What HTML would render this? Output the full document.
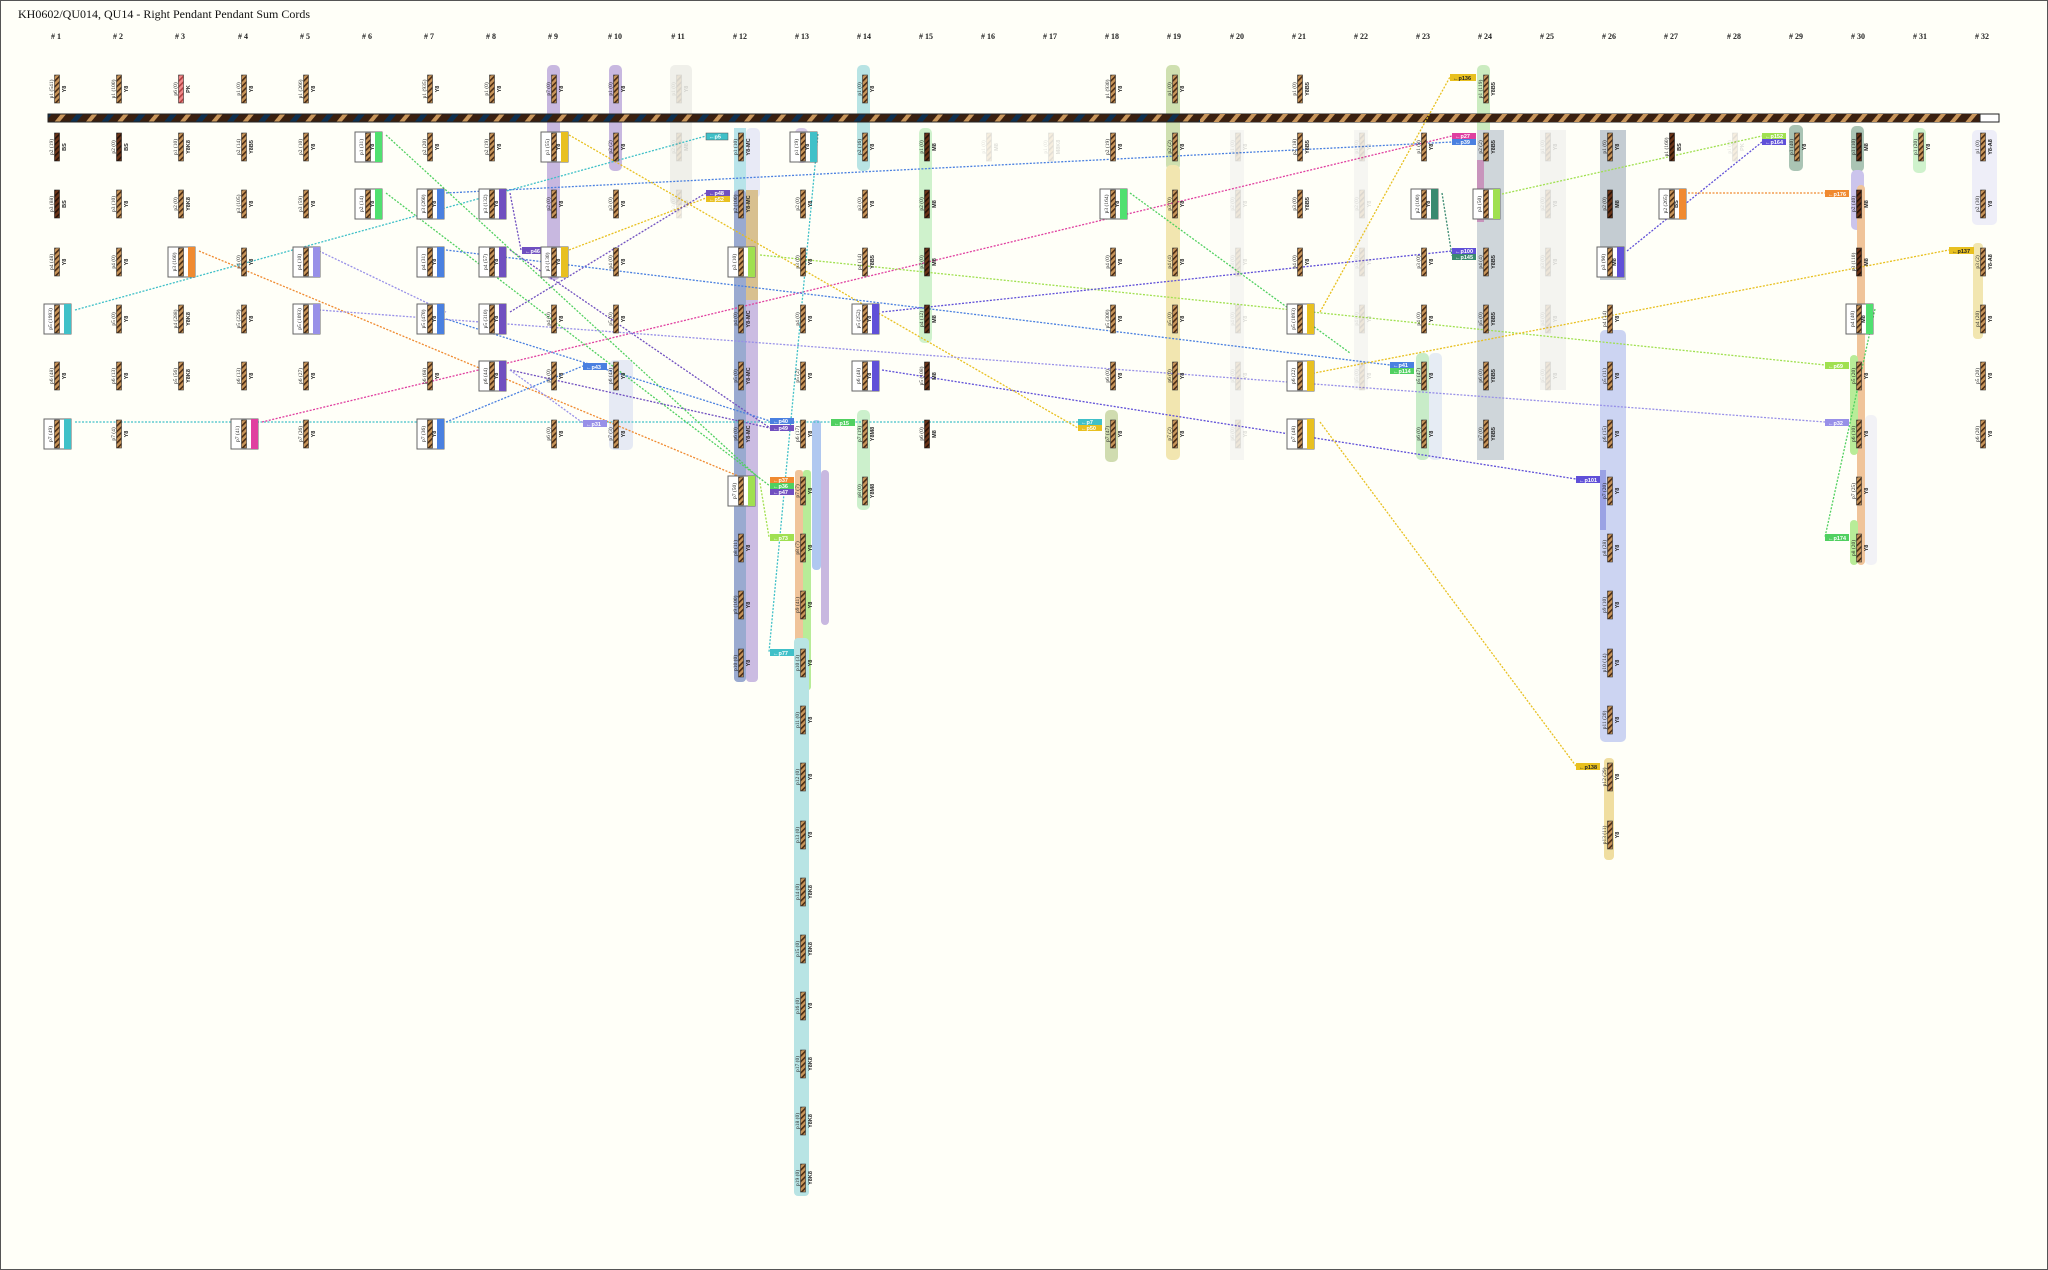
<!DOCTYPE html>
<html><head><meta charset="utf-8"><style>
html,body{margin:0;padding:0;background:#fffff8}
svg{display:block}
.l{font:5.5px "Liberation Serif",serif;text-anchor:middle;fill:#222}
.c{font:bold 5.5px "Liberation Sans",sans-serif;text-anchor:middle;fill:#222}
.h{font:bold 8px "Liberation Serif",serif;text-anchor:middle;fill:#222}
.t{font:5.5px "Liberation Sans",sans-serif;fill:#fff;font-weight:bold}
.tt{font:bold 5.5px "Liberation Sans",sans-serif;text-anchor:middle;fill:#fff}
.ln{fill:none;stroke-width:1.3;stroke-dasharray:2 1.5}
.f{opacity:.15}
</style></head><body>
<svg width="2048" height="1270" viewBox="0 0 2048 1270" xmlns="http://www.w3.org/2000/svg">
<defs>
<pattern id="st" width="4" height="4" patternUnits="userSpaceOnUse" patternTransform="rotate(45)"><rect width="4" height="4" fill="#c8955a"/><rect width="1.6" height="4" fill="#4a2c14"/></pattern>
<pattern id="sd" width="4" height="4" patternUnits="userSpaceOnUse" patternTransform="rotate(45)"><rect width="4" height="4" fill="#6a3418"/><rect width="1.6" height="4" fill="#2a1206"/></pattern>
<pattern id="sp" width="4" height="4" patternUnits="userSpaceOnUse" patternTransform="rotate(45)"><rect width="4" height="4" fill="#f08a8a"/><rect width="1.6" height="4" fill="#b04040"/></pattern>
<pattern id="bar" width="24" height="24" patternUnits="userSpaceOnUse" patternTransform="rotate(40)"><rect width="24" height="24" fill="#3a2010"/><rect x="0" width="4" height="24" fill="#c8955a"/><rect x="12" width="5" height="24" fill="#0e3050"/></pattern>
<pattern id="bar2" width="12" height="12" patternUnits="userSpaceOnUse" patternTransform="rotate(40)"><rect width="12" height="12" fill="#3a2010"/><rect width="4" height="12" fill="#c8955a"/></pattern>
<g id="s"><rect x="-2.5" y="-14" width="5" height="28" fill="url(#st)" stroke="#333" stroke-width=".6"/></g>
<g id="d"><rect x="-2.5" y="-14" width="5" height="28" fill="url(#sd)" stroke="#222" stroke-width=".6"/></g>
<g id="b"><rect x="-13" y="-15" width="27" height="30" fill="#fff" stroke="#666" stroke-width="1"/><rect x="-2.5" y="-14" width="5" height="28" fill="url(#st)" stroke="#333" stroke-width=".6"/></g>
</defs>
<rect x="0.5" y="0.5" width="2047" height="1269" fill="#fffff8" stroke="#555"/>
<text x="18" y="18" style="font:12px 'Liberation Serif',serif;fill:#111">KH0602/QU014, QU14 - Right Pendant Pendant Sum Cords</text>

<!-- column headers -->
<g class="h">
<text x="56" y="39"># 1</text><text x="118" y="39"># 2</text><text x="180" y="39"># 3</text><text x="243" y="39"># 4</text><text x="305" y="39"># 5</text><text x="367" y="39"># 6</text><text x="429" y="39"># 7</text><text x="491" y="39"># 8</text><text x="553" y="39"># 9</text><text x="615" y="39"># 10</text><text x="678" y="39"># 11</text><text x="740" y="39"># 12</text><text x="802" y="39"># 13</text><text x="864" y="39"># 14</text><text x="926" y="39"># 15</text><text x="988" y="39"># 16</text><text x="1050" y="39"># 17</text><text x="1112" y="39"># 18</text><text x="1174" y="39"># 19</text><text x="1237" y="39"># 20</text><text x="1299" y="39"># 21</text><text x="1361" y="39"># 22</text><text x="1423" y="39"># 23</text><text x="1485" y="39"># 24</text><text x="1547" y="39"># 25</text><text x="1609" y="39"># 26</text><text x="1671" y="39"># 27</text><text x="1734" y="39"># 28</text><text x="1796" y="39"># 29</text><text x="1858" y="39"># 30</text><text x="1920" y="39"># 31</text><text x="1982" y="39"># 32</text>
</g>

<!-- bands -->
<g>
<rect x="547" y="65" width="13" height="215" rx="5" fill="#c8b8e0"/>
<rect x="609" y="65" width="13" height="106" rx="5" fill="#c8b8e0"/>
<rect x="609" y="360" width="24" height="90" rx="5" fill="#e6eaf4"/>
<rect x="670" y="65" width="22" height="140" rx="5" fill="#f0f0ea"/>
<rect x="734" y="128" width="12" height="70" fill="#b8e4ea"/>
<rect x="746" y="128" width="14" height="70" rx="5" fill="#e8eaf6"/>
<rect x="734" y="190" width="12" height="492" rx="4" fill="#9aaad0"/>
<rect x="746" y="190" width="12" height="492" rx="4" fill="#cbbce2"/>
<rect x="746" y="190" width="12" height="110" fill="#d8c090"/>
<rect x="795" y="128" width="13" height="35" rx="5" fill="#d8cce8"/>
<rect x="795" y="470" width="8" height="230" rx="3" fill="#f0c49a"/>
<rect x="803" y="470" width="8" height="220" rx="3" fill="#b8ec98"/>
<rect x="812" y="420" width="9" height="150" rx="4" fill="#b0c8f0"/>
<rect x="821" y="470" width="8" height="155" rx="4" fill="#c8b8e0"/>
<rect x="794" y="638" width="15" height="558" rx="4" fill="#b8e4e4"/>
<rect x="857" y="65" width="13" height="106" rx="5" fill="#b8e4e4"/>
<rect x="857" y="410" width="13" height="100" rx="5" fill="#ccf0cc"/>
<rect x="919" y="128" width="13" height="215" rx="5" fill="#cff2cc"/>
<rect x="1105" y="410" width="13" height="52" rx="5" fill="#d0dcb0"/>
<rect x="1166" y="65" width="14" height="105" rx="5" fill="#cfe0b0"/>
<rect x="1166" y="165" width="14" height="295" rx="5" fill="#f2e6b0"/>
<rect x="1230" y="130" width="14" height="330" fill="#f6f6f2"/>
<rect x="1354" y="130" width="14" height="260" fill="#f6f6f2"/>
<rect x="1416" y="353" width="13" height="107" rx="5" fill="#c8ecc8"/>
<rect x="1429" y="353" width="13" height="107" rx="5" fill="#e6ecf4"/>
<rect x="1477" y="65" width="13" height="110" rx="5" fill="#cbecc0"/>
<rect x="1477" y="130" width="27" height="330" fill="#cfd6da"/>
<rect x="1477" y="160" width="7" height="62" fill="#c894bc"/>
<rect x="1540" y="130" width="26" height="260" fill="#f4f4f0"/>
<rect x="1600" y="130" width="26" height="150" fill="#c4ccd2"/>
<rect x="1600" y="330" width="26" height="412" rx="5" fill="#ccd4f2"/>
<rect x="1600" y="470" width="6" height="60" fill="#9aa2e4"/>
<rect x="1604" y="758" width="10" height="102" rx="4" fill="#f0dea0"/>
<rect x="1789" y="125" width="14" height="46" rx="5" fill="#aac4b4"/>
<rect x="1851" y="126" width="13" height="46" rx="5" fill="#aac4b4"/>
<rect x="1851" y="170" width="13" height="60" rx="5" fill="#cbc4ec"/>
<rect x="1857" y="185" width="8" height="380" rx="4" fill="#f0c49a"/>
<rect x="1850" y="355" width="8" height="100" rx="4" fill="#b8ec98"/>
<rect x="1850" y="520" width="8" height="45" rx="4" fill="#b8ec98"/>
<rect x="1865" y="415" width="12" height="150" rx="5" fill="#f2f2f6"/>
<rect x="1913" y="128" width="13" height="45" rx="5" fill="#cff2cc"/>
<rect x="1972" y="130" width="25" height="95" rx="5" fill="#eeeef8"/>
<rect x="1973" y="243" width="10" height="96" rx="4" fill="#f2e6b0"/>
</g>

<!-- main cord -->
<rect x="48" y="114" width="1951" height="8" fill="url(#bar)" stroke="#222" stroke-width="1"/>
<rect x="1200" y="114" width="799" height="8" fill="url(#bar2)"/>
<rect x="1980" y="114" width="19" height="8" fill="#fff" stroke="#222" stroke-width="1"/>

<!-- connectors -->
<g class="ln">
<path d="M75 310 L706 136" stroke="#40c0c8"/>
<path d="M75 422 L1078 422" stroke="#40c0c8"/>
<path d="M199 251 L755 483" stroke="#f08a30"/>
<path d="M262 422 L1452 136" stroke="#e040a0"/>
<path d="M446 193 L1452 142" stroke="#4a80e0"/>
<path d="M510 193 L521 250 M510 250 L770 428" stroke="#7050c0"/>
<path d="M386 135 L760 479" stroke="#50d060"/>
<path d="M386 193 L770 486" stroke="#50d060"/>
<path d="M446 319 L770 421" stroke="#4a80e0"/>
<path d="M319 251 L446 312" stroke="#9890e8"/>
<path d="M569 135 L1078 428" stroke="#e8c020"/>
<path d="M569 250 L706 198" stroke="#e8c020"/>
<path d="M510 312 L706 193" stroke="#7050c0"/>
<path d="M319 310 L1825 422" stroke="#9890e8"/>
<path d="M446 422 L583 366" stroke="#4a80e0"/>
<path d="M446 250 L1390 365" stroke="#4a80e0"/>
<path d="M510 370 L770 428" stroke="#7050c0"/>
<path d="M510 370 L583 423" stroke="#9890e8"/>
<path d="M818 134 L769 652" stroke="#40c0c8"/>
<path d="M760 255 L1825 365" stroke="#a0e050"/>
<path d="M882 312 L1452 251" stroke="#6050d8"/>
<path d="M882 370 L1576 479" stroke="#6050d8"/>
<path d="M1320 422 L1576 766" stroke="#e8c020"/>
<path d="M1320 312 L1450 77" stroke="#e8c020"/>
<path d="M1299 376 L1949 250" stroke="#e8c020"/>
<path d="M1130 193 L1350 353" stroke="#50d060"/>
<path d="M1502 194 L1762 136" stroke="#a0e050"/>
<path d="M1627 251 L1762 142" stroke="#6050d8"/>
<path d="M1688 193 L1825 193" stroke="#f08a30"/>
<path d="M1875 309 L1825 537" stroke="#50d060"/>
<path d="M1442 193 L1452 256" stroke="#3a8a70"/>
<path d="M760 483 L769 537" stroke="#a0e050"/>
</g>

<!-- tags -->
<g>
<rect x="706" y="133" width="22" height="7" fill="#40c0c8" stroke="#555" stroke-width=".5"/><text class="t" x="709" y="138.5">←p5</text>
<rect x="706" y="190" width="24" height="6" fill="#7050c0"/><text class="t" x="709" y="195">←p48</text>
<rect x="706" y="196" width="24" height="6" fill="#e8c020"/><text class="t" x="709" y="201">←p52</text>
<rect x="770" y="418" width="24" height="6" fill="#4a80e0"/><text class="t" x="773" y="423">←p40</text>
<rect x="770" y="425" width="24" height="6" fill="#7050c0"/><text class="t" x="773" y="430">←p49</text>
<rect x="831" y="419" width="24" height="7" fill="#50d060"/><text class="t" x="834" y="425">←p15</text>
<rect x="770" y="477" width="24" height="6" fill="#f08a30"/><text class="t" x="773" y="482">←p37</text>
<rect x="770" y="483" width="24" height="6" fill="#50d060"/><text class="t" x="773" y="488">←p36</text>
<rect x="770" y="489" width="24" height="6" fill="#7050c0"/><text class="t" x="773" y="494">←p47</text>
<rect x="770" y="534" width="24" height="7" fill="#a0e050"/><text class="t" x="773" y="540">←p73</text>
<rect x="770" y="649" width="24" height="7" fill="#40c0c8"/><text class="t" x="773" y="655">←p77</text>
<rect x="522" y="247" width="24" height="7" fill="#7050c0"/><text class="t" x="525" y="253">←p46</text>
<rect x="583" y="363" width="24" height="7" fill="#4a80e0"/><text class="t" x="586" y="369">←p43</text>
<rect x="583" y="420" width="24" height="7" fill="#9890e8"/><text class="t" x="586" y="426">←p31</text>
<rect x="1078" y="419" width="24" height="6" fill="#40c0c8"/><text class="t" x="1081" y="424">←p7</text>
<rect x="1078" y="425" width="24" height="6" fill="#e8c020"/><text class="t" x="1081" y="430">←p50</text>
<rect x="1450" y="74" width="26" height="7" fill="#e8c020"/><text class="t" x="1453" y="80" style="fill:#222">←p136</text>
<rect x="1452" y="133" width="24" height="6" fill="#e040a0"/><text class="t" x="1455" y="138">←p27</text>
<rect x="1452" y="139" width="24" height="6" fill="#4a80e0"/><text class="t" x="1455" y="144">←p39</text>
<rect x="1452" y="248" width="24" height="6" fill="#6050d8"/><text class="t" x="1455" y="253">←p100</text>
<rect x="1452" y="254" width="24" height="6" fill="#3a8a70"/><text class="t" x="1455" y="259">←p145</text>
<rect x="1390" y="362" width="24" height="6" fill="#4a80e0"/><text class="t" x="1393" y="367">←p41</text>
<rect x="1390" y="368" width="24" height="6" fill="#50d060"/><text class="t" x="1393" y="373">←p114</text>
<rect x="1762" y="133" width="24" height="6" fill="#a0e050"/><text class="t" x="1765" y="138">←p152</text>
<rect x="1762" y="139" width="24" height="6" fill="#6050d8"/><text class="t" x="1765" y="144">←p164</text>
<rect x="1825" y="190" width="24" height="7" fill="#f08a30"/><text class="t" x="1828" y="196">←p176</text>
<rect x="1949" y="247" width="25" height="7" fill="#e8c020"/><text class="t" x="1952" y="253" style="fill:#222">←p137</text>
<rect x="1825" y="362" width="24" height="7" fill="#a0e050"/><text class="t" x="1828" y="368">←p69</text>
<rect x="1825" y="419" width="24" height="7" fill="#9890e8"/><text class="t" x="1828" y="425">←p32</text>
<rect x="1825" y="534" width="24" height="7" fill="#50d060"/><text class="t" x="1828" y="540">←p174</text>
<rect x="1576" y="476" width="24" height="7" fill="#6050d8"/><text class="t" x="1579" y="482">←p101</text>
<rect x="1576" y="763" width="24" height="7" fill="#e8c020"/><text class="t" x="1579" y="769" style="fill:#222">←p138</text>
</g>

<!-- boxes (with tags) -->
<g>
<g transform="translate(57,319)"><use href="#b"/><rect x="7" y="-15" width="7" height="30" fill="#40c0c8"/><text class="l" transform="rotate(-90)" y="-5">p5 (1993)</text></g>
<g transform="translate(57,434)"><use href="#b"/><rect x="7" y="-15" width="7" height="30" fill="#40c0c8"/><text class="l" transform="rotate(-90)" y="-5">p7 (49)</text></g>
<g transform="translate(181,262)"><use href="#b"/><rect x="7" y="-15" width="7" height="30" fill="#f08a30"/><text class="l" transform="rotate(-90)" y="-5">p3 (160)</text></g>
<g transform="translate(244,434)"><use href="#b"/><rect x="7" y="-15" width="7" height="30" fill="#e040a0"/><text class="l" transform="rotate(-90)" y="-5">p7 (41)</text></g>
<g transform="translate(306,262)"><use href="#b"/><rect x="7" y="-15" width="7" height="30" fill="#9890e8"/><text class="l" transform="rotate(-90)" y="-5">p4 (10)</text></g>
<g transform="translate(306,319)"><use href="#b"/><rect x="7" y="-15" width="7" height="30" fill="#9890e8"/><text class="l" transform="rotate(-90)" y="-5">p5 (1093)</text></g>
<g transform="translate(368,147)"><use href="#b"/><rect x="7" y="-15" width="7" height="30" fill="#50e070"/><text class="l" transform="rotate(-90)" y="-5">p1 (31)</text><text class="c" transform="rotate(-90)" y="6">Y8</text></g>
<g transform="translate(368,204)"><use href="#b"/><rect x="7" y="-15" width="7" height="30" fill="#50e070"/><text class="l" transform="rotate(-90)" y="-5">p2 (14)</text><text class="c" transform="rotate(-90)" y="6">Y8</text></g>
<g transform="translate(430,204)"><use href="#b"/><rect x="7" y="-15" width="7" height="30" fill="#4a80e0"/><text class="l" transform="rotate(-90)" y="-5">p3 (260)</text><text class="c" transform="rotate(-90)" y="6">Y8</text></g>
<g transform="translate(430,262)"><use href="#b"/><rect x="7" y="-15" width="7" height="30" fill="#4a80e0"/><text class="l" transform="rotate(-90)" y="-5">p4 (31)</text><text class="c" transform="rotate(-90)" y="6">Y8</text></g>
<g transform="translate(430,319)"><use href="#b"/><rect x="7" y="-15" width="7" height="30" fill="#4a80e0"/><text class="l" transform="rotate(-90)" y="-5">p5 (470)</text><text class="c" transform="rotate(-90)" y="6">Y8</text></g>
<g transform="translate(430,434)"><use href="#b"/><rect x="7" y="-15" width="7" height="30" fill="#4a80e0"/><text class="l" transform="rotate(-90)" y="-5">p7 (36)</text><text class="c" transform="rotate(-90)" y="6">Y8</text></g>
<g transform="translate(492,204)"><use href="#b"/><rect x="7" y="-15" width="7" height="30" fill="#7050c0"/><text class="l" transform="rotate(-90)" y="-5">p3 (132)</text><text class="c" transform="rotate(-90)" y="6">Y8</text></g>
<g transform="translate(492,262)"><use href="#b"/><rect x="7" y="-15" width="7" height="30" fill="#7050c0"/><text class="l" transform="rotate(-90)" y="-5">p4 (57)</text><text class="c" transform="rotate(-90)" y="6">Y8</text></g>
<g transform="translate(492,319)"><use href="#b"/><rect x="7" y="-15" width="7" height="30" fill="#7050c0"/><text class="l" transform="rotate(-90)" y="-5">p5 (310)</text><text class="c" transform="rotate(-90)" y="6">Y8</text></g>
<g transform="translate(492,376)"><use href="#b"/><rect x="7" y="-15" width="7" height="30" fill="#7050c0"/><text class="l" transform="rotate(-90)" y="-5">p6 (44)</text><text class="c" transform="rotate(-90)" y="6">Y8</text></g>
<g transform="translate(554,147)"><use href="#b"/><rect x="7" y="-15" width="7" height="30" fill="#e8c020"/><text class="l" transform="rotate(-90)" y="-5">p1 (55)</text><text class="c" transform="rotate(-90)" y="6">Y8</text></g>
<g transform="translate(554,262)"><use href="#b"/><rect x="7" y="-15" width="7" height="30" fill="#e8c020"/><text class="l" transform="rotate(-90)" y="-5">p3 (130)</text><text class="c" transform="rotate(-90)" y="6">Y8</text></g>
<g transform="translate(741,262)"><use href="#b"/><rect x="7" y="-15" width="7" height="30" fill="#a0e050"/><text class="l" transform="rotate(-90)" y="-5">p3 (10)</text></g>
<g transform="translate(741,491)"><use href="#b"/><rect x="7" y="-15" width="7" height="30" fill="#a0e050"/><text class="l" transform="rotate(-90)" y="-5">p7 (50)</text></g>
<g transform="translate(803,147)"><use href="#b"/><rect x="7" y="-15" width="7" height="30" fill="#40c0c8"/><text class="l" transform="rotate(-90)" y="-5">p1 (19)</text><text class="c" transform="rotate(-90)" y="6">Y8</text></g>
<g transform="translate(865,319)"><use href="#b"/><rect x="7" y="-15" width="7" height="30" fill="#6050d8"/><text class="l" transform="rotate(-90)" y="-5">p5 (252)</text><text class="c" transform="rotate(-90)" y="6">Y8</text></g>
<g transform="translate(865,376)"><use href="#b"/><rect x="7" y="-15" width="7" height="30" fill="#6050d8"/><text class="l" transform="rotate(-90)" y="-5">p6 (48)</text><text class="c" transform="rotate(-90)" y="6">Y8</text></g>
<g transform="translate(1113,204)"><use href="#b"/><rect x="7" y="-15" width="7" height="30" fill="#50e070"/><text class="l" transform="rotate(-90)" y="-5">p3 (164)</text><text class="c" transform="rotate(-90)" y="6">Y8</text></g>
<g transform="translate(1300,319)"><use href="#b"/><rect x="7" y="-15" width="7" height="30" fill="#e8c020"/><text class="l" transform="rotate(-90)" y="-5">p5 (1093)</text></g>
<g transform="translate(1300,376)"><use href="#b"/><rect x="7" y="-15" width="7" height="30" fill="#e8c020"/><text class="l" transform="rotate(-90)" y="-5">p6 (22)</text></g>
<g transform="translate(1300,434)"><use href="#b"/><rect x="7" y="-15" width="7" height="30" fill="#e8c020"/><text class="l" transform="rotate(-90)" y="-5">p7 (48)</text></g>
<g transform="translate(1424,204)"><use href="#b"/><rect x="7" y="-15" width="7" height="30" fill="#3a8a70"/><text class="l" transform="rotate(-90)" y="-5">p2 (100)</text><text class="c" transform="rotate(-90)" y="6">Y8</text></g>
<g transform="translate(1486,204)"><use href="#b"/><rect x="7" y="-15" width="7" height="30" fill="#a0e050"/><text class="l" transform="rotate(-90)" y="-5">p3 (50)</text></g>
<g transform="translate(1610,262)"><use href="#b"/><rect x="7" y="-15" width="7" height="30" fill="#6050d8"/><text class="l" transform="rotate(-90)" y="-5">p3 (90)</text><text class="c" transform="rotate(-90)" y="6">M8</text></g>
<g transform="translate(1672,204)"><use href="#b"/><rect x="7" y="-15" width="7" height="30" fill="#f08a30"/><text class="l" transform="rotate(-90)" y="-5">p2 (265)</text><text class="c" transform="rotate(-90)" y="6">BS</text></g>
<g transform="translate(1859,319)"><use href="#b"/><rect x="7" y="-15" width="7" height="30" fill="#50e070"/><text class="l" transform="rotate(-90)" y="-5">p4 (40)</text><text class="c" transform="rotate(-90)" y="6">M8</text></g>
</g>

<!-- plain cords -->
<g>
<!-- top row -->
<g transform="translate(57,89)"><use href="#s"/><text class="l" transform="rotate(-90)" y="-4">p1 (541)</text><text class="c" transform="rotate(-90)" y="9">Y8</text></g>
<g transform="translate(119,89)"><use href="#s"/><text class="l" transform="rotate(-90)" y="-4">p1 (100)</text><text class="c" transform="rotate(-90)" y="9">Y8</text></g>
<g transform="translate(181,89)"><rect x="-2.5" y="-14" width="5" height="28" fill="url(#sp)" stroke="#333" stroke-width=".6"/><text class="l" transform="rotate(-90)" y="-4">p6 (0)</text><text class="c" transform="rotate(-90)" y="9">PK</text></g>
<g transform="translate(244,89)"><use href="#s"/><text class="l" transform="rotate(-90)" y="-4">p1 (0)</text><text class="c" transform="rotate(-90)" y="9">Y8</text></g>
<g transform="translate(306,89)"><use href="#s"/><text class="l" transform="rotate(-90)" y="-4">p1 (266)</text><text class="c" transform="rotate(-90)" y="9">Y8</text></g>
<g transform="translate(430,89)"><use href="#s"/><text class="l" transform="rotate(-90)" y="-4">p1 (935)</text><text class="c" transform="rotate(-90)" y="9">Y8</text></g>
<g transform="translate(492,89)"><use href="#s"/><text class="l" transform="rotate(-90)" y="-4">p1 (0)</text><text class="c" transform="rotate(-90)" y="9">Y8</text></g>
<g transform="translate(554,89)"><use href="#s"/><text class="l" transform="rotate(-90)" y="-4">p7 (0)</text><text class="c" transform="rotate(-90)" y="9">Y8</text></g>
<g transform="translate(616,89)"><use href="#s"/><text class="l" transform="rotate(-90)" y="-4">p1 (0)</text><text class="c" transform="rotate(-90)" y="9">Y8</text></g>
<g transform="translate(679,89)" class="f"><use href="#s"/><text class="l" transform="rotate(-90)" y="-4">p1 (0)</text><text class="c" transform="rotate(-90)" y="9">Y8</text></g>
<g transform="translate(865,89)"><use href="#s"/><text class="l" transform="rotate(-90)" y="-4">p1 (0)</text><text class="c" transform="rotate(-90)" y="9">Y8</text></g>
<g transform="translate(1113,89)"><use href="#s"/><text class="l" transform="rotate(-90)" y="-4">p1 (930)</text><text class="c" transform="rotate(-90)" y="9">Y8</text></g>
<g transform="translate(1175,89)"><use href="#s"/><text class="l" transform="rotate(-90)" y="-4">p1 (0)</text><text class="c" transform="rotate(-90)" y="9">Y8</text></g>
<g transform="translate(1300,89)"><use href="#s"/><text class="l" transform="rotate(-90)" y="-4">p1 (0)</text><text class="c" transform="rotate(-90)" y="9">Y8B5</text></g>
<g transform="translate(1486,89)"><use href="#s"/><text class="l" transform="rotate(-90)" y="-4">p1 (119)</text><text class="c" transform="rotate(-90)" y="9">Y8B5</text></g>
<!-- row1 -->
<g transform="translate(57,147)"><use href="#d"/><text class="l" transform="rotate(-90)" y="-4">p2 (19)</text><text class="c" transform="rotate(-90)" y="9">BS</text></g>
<g transform="translate(119,147)"><use href="#d"/><text class="l" transform="rotate(-90)" y="-4">p2 (0)</text><text class="c" transform="rotate(-90)" y="9">BS</text></g>
<g transform="translate(181,147)"><use href="#s"/><text class="l" transform="rotate(-90)" y="-4">p1 (10)</text><text class="c" transform="rotate(-90)" y="9">Y8K8</text></g>
<g transform="translate(244,147)"><use href="#s"/><text class="l" transform="rotate(-90)" y="-4">p2 (14)</text><text class="c" transform="rotate(-90)" y="9">Y8B5</text></g>
<g transform="translate(306,147)"><use href="#s"/><text class="l" transform="rotate(-90)" y="-4">p2 (10)</text><text class="c" transform="rotate(-90)" y="9">Y8</text></g>
<g transform="translate(430,147)"><use href="#s"/><text class="l" transform="rotate(-90)" y="-4">p2 (20)</text><text class="c" transform="rotate(-90)" y="9">Y8</text></g>
<g transform="translate(492,147)"><use href="#s"/><text class="l" transform="rotate(-90)" y="-4">p2 (19)</text><text class="c" transform="rotate(-90)" y="9">Y8</text></g>
<g transform="translate(616,147)"><use href="#s"/><text class="l" transform="rotate(-90)" y="-4">p2 (2)</text><text class="c" transform="rotate(-90)" y="9">Y8</text></g>
<g transform="translate(679,147)" class="f"><use href="#s"/><text class="l" transform="rotate(-90)" y="-4">p2 (0)</text><text class="c" transform="rotate(-90)" y="9">M8</text></g>
<g transform="translate(741,147)"><use href="#s"/><text class="l" transform="rotate(-90)" y="-4">p1 (10)</text><text class="c" transform="rotate(-90)" y="9">Y8-MC</text></g>
<g transform="translate(865,147)"><use href="#s"/><text class="l" transform="rotate(-90)" y="-4">p2 (16)</text><text class="c" transform="rotate(-90)" y="9">Y8</text></g>
<g transform="translate(927,147)"><use href="#d"/><text class="l" transform="rotate(-90)" y="-4">p1 (0)</text><text class="c" transform="rotate(-90)" y="9">M8</text></g>
<g transform="translate(989,147)" class="f"><use href="#s"/><text class="l" transform="rotate(-90)" y="-4">p1 (0)</text><text class="c" transform="rotate(-90)" y="9">M8</text></g>
<g transform="translate(1051,147)" class="f"><use href="#s"/><text class="l" transform="rotate(-90)" y="-4">p1 (0)</text><text class="c" transform="rotate(-90)" y="9">M8K8</text></g>
<g transform="translate(1113,147)"><use href="#s"/><text class="l" transform="rotate(-90)" y="-4">p2 (19)</text><text class="c" transform="rotate(-90)" y="9">Y8</text></g>
<g transform="translate(1175,147)"><use href="#s"/><text class="l" transform="rotate(-90)" y="-4">p2 (2)</text><text class="c" transform="rotate(-90)" y="9">Y8</text></g>
<g transform="translate(1238,147)" class="f"><use href="#s"/><text class="l" transform="rotate(-90)" y="-4">p1 (0)</text><text class="c" transform="rotate(-90)" y="9">Y8</text></g>
<g transform="translate(1300,147)"><use href="#s"/><text class="l" transform="rotate(-90)" y="-4">p2 (18)</text><text class="c" transform="rotate(-90)" y="9">Y8B5</text></g>
<g transform="translate(1362,147)" class="f"><use href="#s"/><text class="l" transform="rotate(-90)" y="-4">p1 (0)</text><text class="c" transform="rotate(-90)" y="9">Y8</text></g>
<g transform="translate(1424,147)"><use href="#s"/><text class="l" transform="rotate(-90)" y="-4">p1 (8)</text><text class="c" transform="rotate(-90)" y="9">Y8</text></g>
<g transform="translate(1486,147)"><use href="#s"/><text class="l" transform="rotate(-90)" y="-4">p2 (2)</text><text class="c" transform="rotate(-90)" y="9">Y8B5</text></g>
<g transform="translate(1548,147)" class="f"><use href="#s"/><text class="l" transform="rotate(-90)" y="-4">p1 (0)</text><text class="c" transform="rotate(-90)" y="9">Y8</text></g>
<g transform="translate(1610,147)"><use href="#s"/><text class="l" transform="rotate(-90)" y="-4">p1 (6)</text><text class="c" transform="rotate(-90)" y="9">Y8</text></g>
<g transform="translate(1672,147)"><use href="#d"/><text class="l" transform="rotate(-90)" y="-4">p1 (160)</text><text class="c" transform="rotate(-90)" y="9">BS</text></g>
<g transform="translate(1735,147)" class="f"><use href="#s"/><text class="l" transform="rotate(-90)" y="-4">p1 (0)</text><text class="c" transform="rotate(-90)" y="9">PK</text></g>
<g transform="translate(1797,147)"><use href="#s"/><text class="l" transform="rotate(-90)" y="-4">p1 (40)</text><text class="c" transform="rotate(-90)" y="9">Y8</text></g>
<g transform="translate(1859,147)"><use href="#d"/><text class="l" transform="rotate(-90)" y="-4">p1 (10)</text><text class="c" transform="rotate(-90)" y="9">M8</text></g>
<g transform="translate(1921,147)"><use href="#s"/><text class="l" transform="rotate(-90)" y="-4">p1 (20)</text><text class="c" transform="rotate(-90)" y="9">Y8</text></g>
<g transform="translate(1983,147)"><use href="#s"/><text class="l" transform="rotate(-90)" y="-4">p1 (0)</text><text class="c" transform="rotate(-90)" y="9">Y8-A8</text></g>
<!-- row2 -->
<g transform="translate(57,204)"><use href="#d"/><text class="l" transform="rotate(-90)" y="-4">p3 (88)</text><text class="c" transform="rotate(-90)" y="9">BS</text></g>
<g transform="translate(119,204)"><use href="#s"/><text class="l" transform="rotate(-90)" y="-4">p3 (10)</text><text class="c" transform="rotate(-90)" y="9">Y8</text></g>
<g transform="translate(181,204)"><use href="#s"/><text class="l" transform="rotate(-90)" y="-4">p2 (0)</text><text class="c" transform="rotate(-90)" y="9">Y8K8</text></g>
<g transform="translate(244,204)"><use href="#s"/><text class="l" transform="rotate(-90)" y="-4">p3 (105)</text><text class="c" transform="rotate(-90)" y="9">Y8</text></g>
<g transform="translate(306,204)"><use href="#s"/><text class="l" transform="rotate(-90)" y="-4">p3 (59)</text><text class="c" transform="rotate(-90)" y="9">Y8</text></g>
<g transform="translate(554,204)"><use href="#s"/><text class="l" transform="rotate(-90)" y="-4">p2 (0)</text><text class="c" transform="rotate(-90)" y="9">Y8</text></g>
<g transform="translate(616,204)"><use href="#s"/><text class="l" transform="rotate(-90)" y="-4">p3 (0)</text><text class="c" transform="rotate(-90)" y="9">Y8</text></g>
<g transform="translate(679,204)" class="f"><use href="#s"/><text class="l" transform="rotate(-90)" y="-4">p3 (0)</text><text class="c" transform="rotate(-90)" y="9">M8</text></g>
<g transform="translate(741,204)"><use href="#s"/><text class="l" transform="rotate(-90)" y="-4">p2 (100)</text><text class="c" transform="rotate(-90)" y="9">Y8-MC</text></g>
<g transform="translate(803,204)"><use href="#s"/><text class="l" transform="rotate(-90)" y="-4">p2 (0)</text><text class="c" transform="rotate(-90)" y="9">Y8</text></g>
<g transform="translate(865,204)"><use href="#s"/><text class="l" transform="rotate(-90)" y="-4">p3 (0)</text><text class="c" transform="rotate(-90)" y="9">Y8</text></g>
<g transform="translate(927,204)"><use href="#d"/><text class="l" transform="rotate(-90)" y="-4">p2 (0)</text><text class="c" transform="rotate(-90)" y="9">M8</text></g>
<g transform="translate(1175,204)"><use href="#s"/><text class="l" transform="rotate(-90)" y="-4">p3 (0)</text><text class="c" transform="rotate(-90)" y="9">Y8</text></g>
<g transform="translate(1238,204)" class="f"><use href="#s"/><text class="l" transform="rotate(-90)" y="-4">p2 (0)</text><text class="c" transform="rotate(-90)" y="9">Y8</text></g>
<g transform="translate(1300,204)"><use href="#s"/><text class="l" transform="rotate(-90)" y="-4">p3 (0)</text><text class="c" transform="rotate(-90)" y="9">Y8B5</text></g>
<g transform="translate(1362,204)" class="f"><use href="#s"/><text class="l" transform="rotate(-90)" y="-4">p2 (0)</text><text class="c" transform="rotate(-90)" y="9">Y8</text></g>
<g transform="translate(1548,204)" class="f"><use href="#s"/><text class="l" transform="rotate(-90)" y="-4">p2 (0)</text><text class="c" transform="rotate(-90)" y="9">Y8</text></g>
<g transform="translate(1610,204)"><use href="#d"/><text class="l" transform="rotate(-90)" y="-4">p2 (0)</text><text class="c" transform="rotate(-90)" y="9">M8</text></g>
<g transform="translate(1859,204)"><use href="#d"/><text class="l" transform="rotate(-90)" y="-4">p2 (40)</text><text class="c" transform="rotate(-90)" y="9">M8</text></g>
<g transform="translate(1983,204)"><use href="#s"/><text class="l" transform="rotate(-90)" y="-4">p2 (30)</text><text class="c" transform="rotate(-90)" y="9">Y8</text></g>
<!-- row3 -->
<g transform="translate(57,262)"><use href="#s"/><text class="l" transform="rotate(-90)" y="-4">p4 (48)</text><text class="c" transform="rotate(-90)" y="9">Y8</text></g>
<g transform="translate(119,262)"><use href="#s"/><text class="l" transform="rotate(-90)" y="-4">p4 (0)</text><text class="c" transform="rotate(-90)" y="9">Y8</text></g>
<g transform="translate(244,262)"><use href="#s"/><text class="l" transform="rotate(-90)" y="-4">p4 (0)</text><text class="c" transform="rotate(-90)" y="9">Y8</text></g>
<g transform="translate(616,262)"><use href="#s"/><text class="l" transform="rotate(-90)" y="-4">p4 (0)</text><text class="c" transform="rotate(-90)" y="9">Y8</text></g>
<g transform="translate(803,262)"><use href="#s"/><text class="l" transform="rotate(-90)" y="-4">p3 (0)</text><text class="c" transform="rotate(-90)" y="9">Y8</text></g>
<g transform="translate(865,262)"><use href="#s"/><text class="l" transform="rotate(-90)" y="-4">p4 (14)</text><text class="c" transform="rotate(-90)" y="9">Y8B5</text></g>
<g transform="translate(927,262)"><use href="#d"/><text class="l" transform="rotate(-90)" y="-4">p3 (0)</text><text class="c" transform="rotate(-90)" y="9">M8</text></g>
<g transform="translate(1113,262)"><use href="#s"/><text class="l" transform="rotate(-90)" y="-4">p4 (0)</text><text class="c" transform="rotate(-90)" y="9">Y8</text></g>
<g transform="translate(1175,262)"><use href="#s"/><text class="l" transform="rotate(-90)" y="-4">p4 (4)</text><text class="c" transform="rotate(-90)" y="9">Y8</text></g>
<g transform="translate(1238,262)" class="f"><use href="#s"/><text class="l" transform="rotate(-90)" y="-4">p3 (0)</text><text class="c" transform="rotate(-90)" y="9">Y8</text></g>
<g transform="translate(1300,262)"><use href="#s"/><text class="l" transform="rotate(-90)" y="-4">p4 (0)</text><text class="c" transform="rotate(-90)" y="9">Y8</text></g>
<g transform="translate(1362,262)" class="f"><use href="#s"/><text class="l" transform="rotate(-90)" y="-4">p3 (0)</text><text class="c" transform="rotate(-90)" y="9">Y8</text></g>
<g transform="translate(1424,262)"><use href="#s"/><text class="l" transform="rotate(-90)" y="-4">p3 (0)</text><text class="c" transform="rotate(-90)" y="9">Y8</text></g>
<g transform="translate(1486,262)"><use href="#s"/><text class="l" transform="rotate(-90)" y="-4">p4 (4)</text><text class="c" transform="rotate(-90)" y="9">Y8B5</text></g>
<g transform="translate(1548,262)" class="f"><use href="#s"/><text class="l" transform="rotate(-90)" y="-4">p3 (0)</text><text class="c" transform="rotate(-90)" y="9">Y8</text></g>
<g transform="translate(1859,262)"><use href="#d"/><text class="l" transform="rotate(-90)" y="-4">p3 (110)</text><text class="c" transform="rotate(-90)" y="9">M8</text></g>
<g transform="translate(1983,262)"><use href="#s"/><text class="l" transform="rotate(-90)" y="-4">p3 (2)</text><text class="c" transform="rotate(-90)" y="9">Y8-A8</text></g>
<!-- row4 -->
<g transform="translate(119,319)"><use href="#s"/><text class="l" transform="rotate(-90)" y="-4">p5 (0)</text><text class="c" transform="rotate(-90)" y="9">Y8</text></g>
<g transform="translate(181,319)"><use href="#s"/><text class="l" transform="rotate(-90)" y="-4">p4 (288)</text><text class="c" transform="rotate(-90)" y="9">Y8K8</text></g>
<g transform="translate(244,319)"><use href="#s"/><text class="l" transform="rotate(-90)" y="-4">p5 (229)</text><text class="c" transform="rotate(-90)" y="9">Y8</text></g>
<g transform="translate(554,319)"><use href="#s"/><text class="l" transform="rotate(-90)" y="-4">p4 (0)</text><text class="c" transform="rotate(-90)" y="9">Y8</text></g>
<g transform="translate(616,319)"><use href="#s"/><text class="l" transform="rotate(-90)" y="-4">p5 (0)</text><text class="c" transform="rotate(-90)" y="9">Y8</text></g>
<g transform="translate(741,319)"><use href="#s"/><text class="l" transform="rotate(-90)" y="-4">p4 (0)</text><text class="c" transform="rotate(-90)" y="9">Y8-MC</text></g>
<g transform="translate(803,319)"><use href="#s"/><text class="l" transform="rotate(-90)" y="-4">p4 (0)</text><text class="c" transform="rotate(-90)" y="9">Y8</text></g>
<g transform="translate(927,319)"><use href="#d"/><text class="l" transform="rotate(-90)" y="-4">p4 (12)</text><text class="c" transform="rotate(-90)" y="9">M8</text></g>
<g transform="translate(1113,319)"><use href="#s"/><text class="l" transform="rotate(-90)" y="-4">p5 (300)</text><text class="c" transform="rotate(-90)" y="9">Y8</text></g>
<g transform="translate(1175,319)"><use href="#s"/><text class="l" transform="rotate(-90)" y="-4">p5 (0)</text><text class="c" transform="rotate(-90)" y="9">Y8</text></g>
<g transform="translate(1238,319)" class="f"><use href="#s"/><text class="l" transform="rotate(-90)" y="-4">p4 (0)</text><text class="c" transform="rotate(-90)" y="9">Y8</text></g>
<g transform="translate(1362,319)" class="f"><use href="#s"/><text class="l" transform="rotate(-90)" y="-4">p4 (0)</text><text class="c" transform="rotate(-90)" y="9">Y8</text></g>
<g transform="translate(1424,319)"><use href="#s"/><text class="l" transform="rotate(-90)" y="-4">p4 (0)</text><text class="c" transform="rotate(-90)" y="9">Y8</text></g>
<g transform="translate(1486,319)"><use href="#s"/><text class="l" transform="rotate(-90)" y="-4">p5 (0)</text><text class="c" transform="rotate(-90)" y="9">Y8B5</text></g>
<g transform="translate(1548,319)" class="f"><use href="#s"/><text class="l" transform="rotate(-90)" y="-4">p4 (0)</text><text class="c" transform="rotate(-90)" y="9">Y8</text></g>
<g transform="translate(1610,319)"><use href="#s"/><text class="l" transform="rotate(-90)" y="-4">p4 (14)</text><text class="c" transform="rotate(-90)" y="9">Y8</text></g>
<g transform="translate(1983,319)"><use href="#s"/><text class="l" transform="rotate(-90)" y="-4">p4 (20)</text><text class="c" transform="rotate(-90)" y="9">Y8</text></g>
<!-- row5 -->
<g transform="translate(57,376)"><use href="#s"/><text class="l" transform="rotate(-90)" y="-4">p6 (48)</text><text class="c" transform="rotate(-90)" y="9">Y8</text></g>
<g transform="translate(119,376)"><use href="#s"/><text class="l" transform="rotate(-90)" y="-4">p6 (13)</text><text class="c" transform="rotate(-90)" y="9">Y8</text></g>
<g transform="translate(181,376)"><use href="#s"/><text class="l" transform="rotate(-90)" y="-4">p5 (56)</text><text class="c" transform="rotate(-90)" y="9">Y8K8</text></g>
<g transform="translate(244,376)"><use href="#s"/><text class="l" transform="rotate(-90)" y="-4">p6 (13)</text><text class="c" transform="rotate(-90)" y="9">Y8</text></g>
<g transform="translate(306,376)"><use href="#s"/><text class="l" transform="rotate(-90)" y="-4">p6 (27)</text><text class="c" transform="rotate(-90)" y="9">Y8</text></g>
<g transform="translate(430,376)"><use href="#s"/><text class="l" transform="rotate(-90)" y="-4">p6 (68)</text><text class="c" transform="rotate(-90)" y="9">Y8</text></g>
<g transform="translate(554,376)"><use href="#s"/><text class="l" transform="rotate(-90)" y="-4">p5 (0)</text><text class="c" transform="rotate(-90)" y="9">Y8</text></g>
<g transform="translate(616,376)"><use href="#s"/><text class="l" transform="rotate(-90)" y="-4">p6 (43)</text><text class="c" transform="rotate(-90)" y="9">Y8</text></g>
<g transform="translate(741,376)"><use href="#s"/><text class="l" transform="rotate(-90)" y="-4">p5 (0)</text><text class="c" transform="rotate(-90)" y="9">Y8-MC</text></g>
<g transform="translate(803,376)"><use href="#s"/><text class="l" transform="rotate(-90)" y="-4">p5 (2)</text><text class="c" transform="rotate(-90)" y="9">Y8</text></g>
<g transform="translate(927,376)"><use href="#d"/><text class="l" transform="rotate(-90)" y="-4">p5 (108)</text><text class="c" transform="rotate(-90)" y="9">M8</text></g>
<g transform="translate(1113,376)"><use href="#s"/><text class="l" transform="rotate(-90)" y="-4">p6 (0)</text><text class="c" transform="rotate(-90)" y="9">Y8</text></g>
<g transform="translate(1175,376)"><use href="#s"/><text class="l" transform="rotate(-90)" y="-4">p6 (0)</text><text class="c" transform="rotate(-90)" y="9">Y8</text></g>
<g transform="translate(1238,376)" class="f"><use href="#s"/><text class="l" transform="rotate(-90)" y="-4">p5 (0)</text><text class="c" transform="rotate(-90)" y="9">Y8</text></g>
<g transform="translate(1362,376)" class="f"><use href="#s"/><text class="l" transform="rotate(-90)" y="-4">p5 (0)</text><text class="c" transform="rotate(-90)" y="9">Y8</text></g>
<g transform="translate(1424,376)"><use href="#s"/><text class="l" transform="rotate(-90)" y="-4">p5 (47)</text><text class="c" transform="rotate(-90)" y="9">Y8</text></g>
<g transform="translate(1486,376)"><use href="#s"/><text class="l" transform="rotate(-90)" y="-4">p6 (0)</text><text class="c" transform="rotate(-90)" y="9">Y8B5</text></g>
<g transform="translate(1548,376)" class="f"><use href="#s"/><text class="l" transform="rotate(-90)" y="-4">p5 (0)</text><text class="c" transform="rotate(-90)" y="9">Y8</text></g>
<g transform="translate(1610,376)"><use href="#s"/><text class="l" transform="rotate(-90)" y="-4">p5 (11)</text><text class="c" transform="rotate(-90)" y="9">Y8</text></g>
<g transform="translate(1859,376)"><use href="#s"/><text class="l" transform="rotate(-90)" y="-4">p5 (20)</text><text class="c" transform="rotate(-90)" y="9">Y8</text></g>
<g transform="translate(1983,376)"><use href="#s"/><text class="l" transform="rotate(-90)" y="-4">p5 (20)</text><text class="c" transform="rotate(-90)" y="9">Y8</text></g>
<!-- row6 -->
<g transform="translate(119,434)"><use href="#s"/><text class="l" transform="rotate(-90)" y="-4">p7 (4)</text><text class="c" transform="rotate(-90)" y="9">Y8</text></g>
<g transform="translate(306,434)"><use href="#s"/><text class="l" transform="rotate(-90)" y="-4">p7 (26)</text><text class="c" transform="rotate(-90)" y="9">Y8</text></g>
<g transform="translate(554,434)"><use href="#s"/><text class="l" transform="rotate(-90)" y="-4">p6 (0)</text><text class="c" transform="rotate(-90)" y="9">Y8</text></g>
<g transform="translate(616,434)"><use href="#s"/><text class="l" transform="rotate(-90)" y="-4">p7 (3)</text><text class="c" transform="rotate(-90)" y="9">Y8</text></g>
<g transform="translate(741,434)"><use href="#s"/><text class="l" transform="rotate(-90)" y="-4">p6 (0)</text><text class="c" transform="rotate(-90)" y="9">Y8-MC</text></g>
<g transform="translate(803,434)"><use href="#s"/><text class="l" transform="rotate(-90)" y="-4">p6 (17)</text><text class="c" transform="rotate(-90)" y="9">Y8</text></g>
<g transform="translate(865,434)"><use href="#s"/><text class="l" transform="rotate(-90)" y="-4">p7 (19)</text><text class="c" transform="rotate(-90)" y="9">Y8M8</text></g>
<g transform="translate(927,434)"><use href="#d"/><text class="l" transform="rotate(-90)" y="-4">p6 (0)</text><text class="c" transform="rotate(-90)" y="9">M8</text></g>
<g transform="translate(1113,434)"><use href="#s"/><text class="l" transform="rotate(-90)" y="-4">p7 (47)</text><text class="c" transform="rotate(-90)" y="9">Y8</text></g>
<g transform="translate(1175,434)"><use href="#s"/><text class="l" transform="rotate(-90)" y="-4">p7 (2)</text><text class="c" transform="rotate(-90)" y="9">Y8</text></g>
<g transform="translate(1238,434)" class="f"><use href="#s"/><text class="l" transform="rotate(-90)" y="-4">p6 (0)</text><text class="c" transform="rotate(-90)" y="9">Y8</text></g>
<g transform="translate(1424,434)"><use href="#s"/><text class="l" transform="rotate(-90)" y="-4">p6 (0)</text><text class="c" transform="rotate(-90)" y="9">Y8</text></g>
<g transform="translate(1486,434)"><use href="#s"/><text class="l" transform="rotate(-90)" y="-4">p7 (0)</text><text class="c" transform="rotate(-90)" y="9">Y8B5</text></g>
<g transform="translate(1610,434)"><use href="#s"/><text class="l" transform="rotate(-90)" y="-4">p6 (15)</text><text class="c" transform="rotate(-90)" y="9">Y8</text></g>
<g transform="translate(1859,434)"><use href="#s"/><text class="l" transform="rotate(-90)" y="-4">p6 (10)</text><text class="c" transform="rotate(-90)" y="9">Y8</text></g>
<g transform="translate(1983,434)"><use href="#s"/><text class="l" transform="rotate(-90)" y="-4">p6 (20)</text><text class="c" transform="rotate(-90)" y="9">Y8</text></g>
<!-- lower rows -->
<g transform="translate(803,491)"><use href="#s"/><text class="l" transform="rotate(-90)" y="-4">p7 (7)</text><text class="c" transform="rotate(-90)" y="9">Y8</text></g>
<g transform="translate(865,491)"><use href="#s"/><text class="l" transform="rotate(-90)" y="-4">p8 (0)</text><text class="c" transform="rotate(-90)" y="9">Y8M8</text></g>
<g transform="translate(1610,491)"><use href="#s"/><text class="l" transform="rotate(-90)" y="-4">p7 (20)</text><text class="c" transform="rotate(-90)" y="9">Y8</text></g>
<g transform="translate(1859,491)"><use href="#s"/><text class="l" transform="rotate(-90)" y="-4">p7 (25)</text><text class="c" transform="rotate(-90)" y="9">Y8</text></g>
<g transform="translate(741,548)"><use href="#s"/><text class="l" transform="rotate(-90)" y="-4">p8 (11)</text><text class="c" transform="rotate(-90)" y="9">Y8</text></g>
<g transform="translate(803,548)"><use href="#s"/><text class="l" transform="rotate(-90)" y="-4">p8 (7)</text><text class="c" transform="rotate(-90)" y="9">Y8</text></g>
<g transform="translate(1610,548)"><use href="#s"/><text class="l" transform="rotate(-90)" y="-4">p8 (28)</text><text class="c" transform="rotate(-90)" y="9">Y8</text></g>
<g transform="translate(1859,548)"><use href="#s"/><text class="l" transform="rotate(-90)" y="-4">p8 (20)</text><text class="c" transform="rotate(-90)" y="9">Y8</text></g>
<g transform="translate(741,605)"><use href="#s"/><text class="l" transform="rotate(-90)" y="-4">p9 (100)</text><text class="c" transform="rotate(-90)" y="9">Y8</text></g>
<g transform="translate(803,605)"><use href="#s"/><text class="l" transform="rotate(-90)" y="-4">p9 (41)</text><text class="c" transform="rotate(-90)" y="9">Y8</text></g>
<g transform="translate(1610,605)"><use href="#s"/><text class="l" transform="rotate(-90)" y="-4">p9 (10)</text><text class="c" transform="rotate(-90)" y="9">Y8</text></g>
<g transform="translate(741,663)"><use href="#s"/><text class="l" transform="rotate(-90)" y="-4">p10 (0)</text><text class="c" transform="rotate(-90)" y="9">Y8</text></g>
<g transform="translate(803,663)"><use href="#s"/><text class="l" transform="rotate(-90)" y="-4">p10 (3)</text><text class="c" transform="rotate(-90)" y="9">Y8</text></g>
<g transform="translate(1610,663)"><use href="#s"/><text class="l" transform="rotate(-90)" y="-4">p10 (14)</text><text class="c" transform="rotate(-90)" y="9">Y8</text></g>
<g transform="translate(803,720)"><use href="#s"/><text class="l" transform="rotate(-90)" y="-4">p11 (0)</text><text class="c" transform="rotate(-90)" y="9">Y8</text></g>
<g transform="translate(1610,720)"><use href="#s"/><text class="l" transform="rotate(-90)" y="-4">p11 (20)</text><text class="c" transform="rotate(-90)" y="9">Y8</text></g>
<g transform="translate(803,777)"><use href="#s"/><text class="l" transform="rotate(-90)" y="-4">p12 (0)</text><text class="c" transform="rotate(-90)" y="9">Y8</text></g>
<g transform="translate(1610,777)"><use href="#s"/><text class="l" transform="rotate(-90)" y="-4">p12 (29)</text><text class="c" transform="rotate(-90)" y="9">Y8</text></g>
<g transform="translate(803,835)"><use href="#s"/><text class="l" transform="rotate(-90)" y="-4">p13 (0)</text><text class="c" transform="rotate(-90)" y="9">Y8</text></g>
<g transform="translate(1610,835)"><use href="#s"/><text class="l" transform="rotate(-90)" y="-4">p13 (11)</text><text class="c" transform="rotate(-90)" y="9">Y8</text></g>
<g transform="translate(803,892)"><use href="#s"/><text class="l" transform="rotate(-90)" y="-4">p14 (0)</text><text class="c" transform="rotate(-90)" y="9">Y8K8</text></g>
<g transform="translate(803,949)"><use href="#s"/><text class="l" transform="rotate(-90)" y="-4">p15 (0)</text><text class="c" transform="rotate(-90)" y="9">Y8K8</text></g>
<g transform="translate(803,1006)"><use href="#s"/><text class="l" transform="rotate(-90)" y="-4">p16 (0)</text><text class="c" transform="rotate(-90)" y="9">Y8</text></g>
<g transform="translate(803,1064)"><use href="#s"/><text class="l" transform="rotate(-90)" y="-4">p17 (0)</text><text class="c" transform="rotate(-90)" y="9">Y8K8</text></g>
<g transform="translate(803,1121)"><use href="#s"/><text class="l" transform="rotate(-90)" y="-4">p18 (0)</text><text class="c" transform="rotate(-90)" y="9">Y8K8</text></g>
<g transform="translate(803,1178)"><use href="#s"/><text class="l" transform="rotate(-90)" y="-4">p19 (0)</text><text class="c" transform="rotate(-90)" y="9">Y8K8</text></g>
</g>
</svg>
</body></html>
